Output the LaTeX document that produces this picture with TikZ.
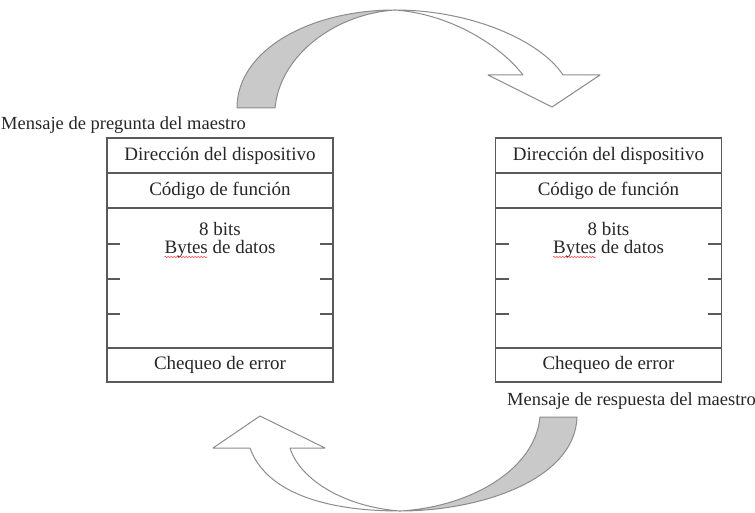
\documentclass[tikz,border=0pt]{standalone}
\usepackage{fontspec}
\setmainfont{Liberation Serif}
\usetikzlibrary{calc,decorations.pathmorphing}
\definecolor{ink}{HTML}{262626}
\definecolor{frame}{HTML}{5A5A5A}
\definecolor{ribbon}{HTML}{8C8C8C}
\definecolor{shade}{HTML}{C9C9C9}
\begin{document}
\begin{tikzpicture}[x=1pt,y=-1pt,
  field/.style={draw=frame, line width=1.1pt, minimum width=226pt, inner sep=0pt,
    font=\fontsize{19}{22}\selectfont, text=ink},
  word/.style={inner sep=0pt, font=\fontsize{19}{22}\selectfont, text=ink},
  caption/.style={inner sep=0pt, font=\fontsize{18.5}{22}\selectfont, text=ink},
  tick/.style={draw=frame, line width=1.1pt},
  spell/.style={draw=red!75, line width=0.5pt,
    decorate, decoration={snake, amplitude=0.8pt, segment length=3pt}},
  band/.style={draw=ribbon, line width=1pt, line join=round}]
\useasboundingbox (0,0) rectangle (755,513);
\clip (0,0) rectangle (755,513);

% curved arrow on top: shaded back of the ribbon, then the white front with its head
\filldraw[band, fill=shade]
  (237,108) .. controls (237,50) and (310,10) .. (395,10)
  .. controls (335,14) and (280,55) .. (275,108) -- cycle;
\filldraw[band, fill=white]
  (395,10) .. controls (470,10) and (540,40) .. (563,75)
  -- (600,75) -- (552,107) -- (488,75) -- (523,75)
  .. controls (500,45) and (450,14) .. (395,10) -- cycle;

% curved arrow at the bottom
\filldraw[band, fill=shade]
  (577,417) .. controls (575,480) and (480,511) .. (400,511)
  .. controls (470,507) and (535,470) .. (540,417) -- cycle;
\filldraw[band, fill=white]
  (400,511) .. controls (320,511) and (265,490) .. (250,448)
  -- (213,448) -- (260,416) -- (325,448) -- (290,448)
  .. controls (300,480) and (345,507) .. (400,511) -- cycle;

% captions
\node[caption, anchor=west] (askcap) at (1,125) {Mensaje de pregunta del maestro};
\node[caption, anchor=west] (replycap) at (507,401) {Mensaje de respuesta del maestro};

% message frames
\foreach \side/\cx in {L/220, R/608.5} {
  \node[field, minimum height=35pt] (dir\side) at (\cx,155.5) {Dirección del dispositivo};
  \node[field, minimum height=35pt] (fun\side) at (\cx,190.5) {Código de función};
  \node[field, minimum height=140pt] (dat\side) at (\cx,278) {};
  \node[field, minimum height=34pt] (err\side) at (\cx,365) {Chequeo de error};
  \node[word] (bits\side) at (\cx,229) {8 bits};
  \node[word, anchor=base] (bytes\side) at (\cx,254) {Bytes de datos};
  \draw[spell] ($(bytes\side.base west)+(0,3)$) -- ++(43,0);
  \foreach \ty in {244,279,314} {
    \draw[tick] (dat\side.west |- {(0,\ty)}) -- ++(14,0);
    \draw[tick] (dat\side.east |- {(0,\ty)}) -- ++(-14,0);
  }
}
\end{tikzpicture}
\end{document}
